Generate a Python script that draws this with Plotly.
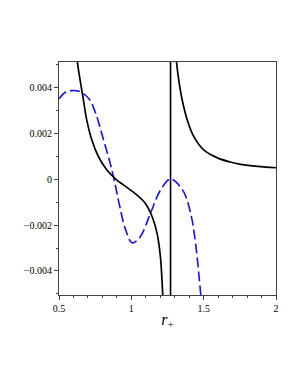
import plotly.graph_objects as go

# Blue dashed curve
blue_r = [0.5, 0.542, 0.588, 0.64, 0.682, 0.715, 0.762, 0.808, 0.854, 0.889, 0.912, 0.958,
          1.005, 1.062, 1.132, 1.201, 1.271, 1.355, 1.41, 1.444, 1.479, 1.49]
blue_v = [0.00352, 0.0038, 0.00388, 0.00385, 0.00368, 0.00346, 0.00273, 0.00172, 0.0007,
          -0.00025, -0.00095, -0.00215, -0.00277, -0.0025, -0.00148, -0.00047, 0.00002,
          -0.00047, -0.00148, -0.0028, -0.00498, -0.0058]

# Black curve, left branch
black_left_r = [0.622, 0.627, 0.646, 0.669, 0.692, 0.727, 0.773, 0.831, 0.90, 0.947, 1.04,
                1.097, 1.144, 1.178, 1.201, 1.217, 1.222]
black_left_v = [0.0058, 0.00514, 0.00434, 0.00346, 0.00259, 0.00172, 0.00099, 0.00041, -0.00003,
                -0.00025, -0.00069, -0.00105, -0.00163, -0.00236, -0.00338, -0.00505, -0.0058]

# Black curve, right branch
black_right_r = [1.308, 1.3125, 1.328, 1.352, 1.387, 1.433, 1.502, 1.595, 1.683, 1.757, 1.873, 2.0]
black_right_v = [0.0058, 0.00514, 0.00434, 0.00346, 0.00259, 0.00186, 0.00128, 0.00094, 0.00076,
                 0.00066, 0.00057, 0.00051]

# Vertical asymptote line
asym_r = 1.271

x_range = [0.5, 2.0]
y_range = [-0.00505, 0.00513]
y_ticks = [-0.004, -0.002, 0, 0.002, 0.004]
y_tick_labels = ["\u22120.004", "\u22120.002", "0", "0.002", "0.004"]
x_ticks = [0.5, 1, 1.5, 2]
x_tick_labels = ["0.5", "1", "1.5", "2"]

fig = go.Figure()
fig.add_trace(go.Scatter(x=blue_r, y=blue_v, mode="lines",
                         line=dict(color="#1010ff", width=1.6, dash="10px,4px", shape="spline", smoothing=1.0),
                         showlegend=False))
fig.add_trace(go.Scatter(x=black_left_r, y=black_left_v, mode="lines",
                         line=dict(color="black", width=1.7, shape="spline", smoothing=1.0),
                         showlegend=False))
fig.add_trace(go.Scatter(x=black_right_r, y=black_right_v, mode="lines",
                         line=dict(color="black", width=1.7, shape="spline", smoothing=1.0),
                         showlegend=False))
fig.add_trace(go.Scatter(x=[asym_r, asym_r], y=[y_range[0] * 2, y_range[1] * 2], mode="lines",
                         line=dict(color="black", width=1.6), showlegend=False))

font = dict(family="Liberation Serif, Times New Roman, serif", size=10, color="black")

fig.update_layout(
    width=292, height=380,
    margin=dict(l=51, r=24, t=54, b=93),
    paper_bgcolor="white", plot_bgcolor="white",
    font=font,
    xaxis=dict(range=x_range, tickvals=x_ticks, ticktext=x_tick_labels,
               showgrid=False, zeroline=False, showline=True, linecolor="#444", linewidth=1,
               mirror=True, ticks="outside", ticklen=4, tickcolor="#444",
               minor=dict(dtick=0.1, ticks="outside", ticklen=2, tickcolor="#444"),
               title=dict(text="<i>r</i><sub>+</sub>", font=dict(family="Liberation Serif, serif", size=16),
                          standoff=0)),
    yaxis=dict(range=y_range, tickvals=y_ticks, ticktext=y_tick_labels,
               showgrid=False, zeroline=False, showline=True, linecolor="#444", linewidth=1,
               mirror=True, ticks="outside", ticklen=4, tickcolor="#444",
               minor=dict(tickvals=[-0.005, -0.003, -0.001, 0.001, 0.003, 0.005], ticks="outside",
                          ticklen=2, tickcolor="#444")),
)

fig.write_html("out.html")
